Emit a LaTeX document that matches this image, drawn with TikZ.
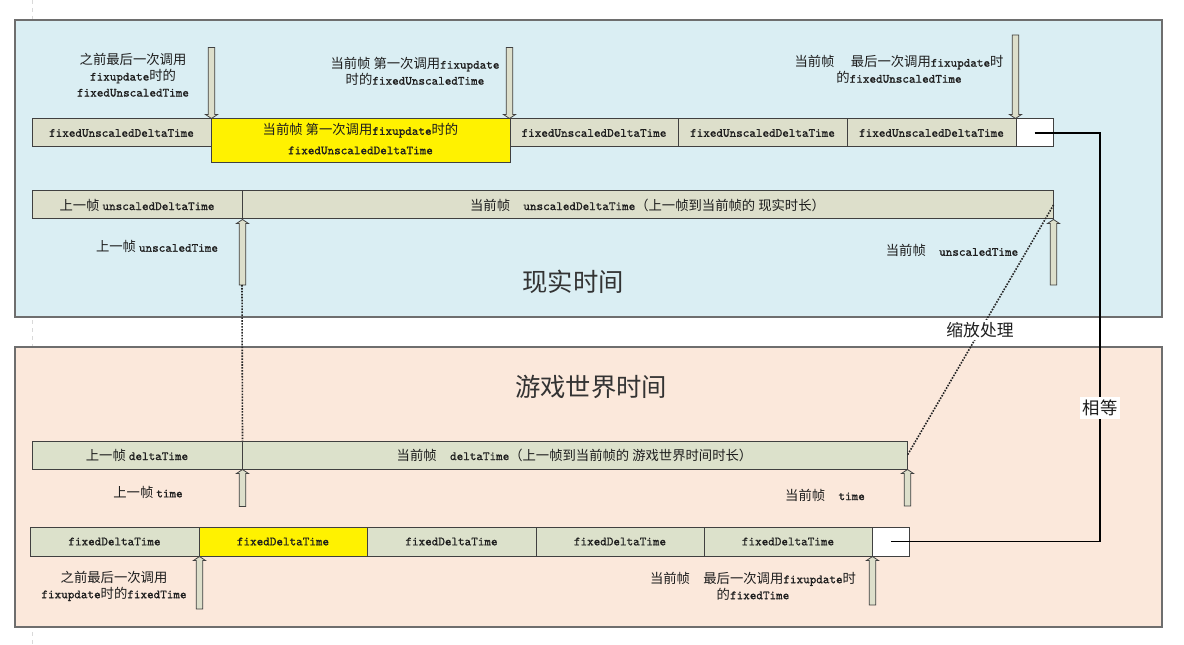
\documentclass[tikz,border=0pt]{standalone}
\usepackage{fontspec}
\setmainfont{Noto Sans CJK SC}
\newfontfamily\cdefont{lmmono10-regular}[Extension=.otf, FakeBold=1.0]
\usetikzlibrary{fit}
\definecolor{panelblue}{HTML}{DAEEF3}
\definecolor{panelpeach}{HTML}{FBE8DB}
\definecolor{cellfill}{HTML}{DDDFCB}
\definecolor{cellfillb}{HTML}{DCE1CB}
\definecolor{panelline}{HTML}{6E6E6E}
\definecolor{txt}{HTML}{1E1E1E}
\newcommand\cde[1]{{\fontsize{9.4}{11}\cdefont #1}}
\begin{document}
\begin{tikzpicture}[x=0.75pt,y=-0.75pt,
  font=\fontsize{10}{12}\selectfont,
  panel/.style={draw=panelline, line width=1.2pt, inner sep=0pt},
  cell/.style={draw=black!75, fill=cellfill, line width=0.75pt, inner sep=0pt},
  bcell/.style={cell, fill=cellfillb},
  wcell/.style={cell, fill=white},
  ctext/.style={inner sep=0pt, text=txt, align=center},
  barrow/.style={draw=black!75, fill=cellfill, line width=0.6pt},
  lbl/.style={align=center, inner sep=1pt, text=txt, font=\fontsize{10}{12}\selectfont},
  title/.style={inner sep=1pt, text=black!80, font=\fontsize{19}{22}\selectfont},
  dots/.style={densely dotted, line width=1.2pt, black!85},
  eqline/.style={line width=1.2pt, black},
  pics/blockarrow/.style={code={\draw[barrow] (0,0) -- (6,4) -- (3.3,4) -- (3.3,#1) -- (-3.3,#1) -- (-3.3,4) -- (-6,4) -- cycle;}}
]
\useasboundingbox (0,0) rectangle (1184,645);
\fill[white] (0,0) rectangle (1184,645);
\draw[dashed, black!15] (32,0) -- (32,645);

% panels
\node[panel, fill=panelblue, fit={(15,20) (1162,317)}] (top) {};
\node[panel, fill=panelpeach, fit={(15,347) (1162,627)}] (bot) {};

% row 1
\node[cell, fit={(32,119) (211,147)}] (c11) {};
\node[cell, fill=yellow, fit={(211,119) (510,163)}] (c12) {};
\node[cell, fit={(510,119) (678,147)}] (c13) {};
\node[cell, fit={(678,119) (847,147)}] (c14) {};
\node[cell, fit={(847,119) (1016,147)}] (c15) {};
\node[wcell, fit={(1016,119) (1053,147)}] (w1) {};
\node[ctext] (c11t) at (c11) {\cde{fixedUnscaledDeltaTime}};
\node[ctext, font=\fontsize{10}{14.5}\selectfont] (c12t) at ([yshift=1.5pt]c12.center) {当前帧 第一次调用\cde{fixupdate}时的\\\cde{fixedUnscaledDeltaTime}};
\node[ctext] (c13t) at (c13) {\cde{fixedUnscaledDeltaTime}};
\node[ctext] (c14t) at (c14) {\cde{fixedUnscaledDeltaTime}};
\node[ctext] (c15t) at (c15) {\cde{fixedUnscaledDeltaTime}};

% row 2
\node[cell, fit={(32,191) (242,219)}] (r2a) {};
\node[cell, fit={(242,191) (1053,219)}] (r2b) {};
\node[ctext] (r2at) at (r2a) {上一帧 \cde{unscaledDeltaTime}};
\node[ctext] (r2bt) at (r2b) {当前帧　\cde{unscaledDeltaTime}（上一帧到当前帧的 现实时长）};

% row 3
\node[bcell, fit={(32,441) (242,469)}] (r3a) {};
\node[bcell, fit={(242,441) (907,469)}] (r3b) {};
\node[ctext] (r3at) at (r3a) {上一帧 \cde{deltaTime}};
\node[ctext] (r3bt) at (r3b) {当前帧　\cde{deltaTime}（上一帧到当前帧的 游戏世界时间时长）};

% row 4
\node[bcell, fit={(30,527) (199,556)}] (c41) {};
\node[cell, fill=yellow, fit={(199,527) (367,556)}] (c42) {};
\node[bcell, fit={(367,527) (536,556)}] (c43) {};
\node[bcell, fit={(536,527) (704,556)}] (c44) {};
\node[bcell, fit={(704,527) (872,556)}] (c45) {};
\node[wcell, fit={(872,527) (909,556)}] (w2) {};
\node[ctext] (c41t) at (c41) {\cde{fixedDeltaTime}};
\node[ctext] (c42t) at (c42) {\cde{fixedDeltaTime}};
\node[ctext] (c43t) at (c43) {\cde{fixedDeltaTime}};
\node[ctext] (c44t) at (c44) {\cde{fixedDeltaTime}};
\node[ctext] (c45t) at (c45) {\cde{fixedDeltaTime}};

% labels
\node[lbl] (l1) at (133,75) {之前最后一次调用\\\cde{fixupdate}时的\\\cde{fixedUnscaledTime}};
\node[lbl] (l2) at (415,71.5) {当前帧 第一次调用\cde{fixupdate}\\时的\cde{fixedUnscaledTime}};
\node[lbl] (l3) at (899,69.5) {当前帧　 最后一次调用\cde{fixupdate}时\\的\cde{fixedUnscaledTime}};
\node[lbl] (l4) at (157,246.7) {上一帧 \cde{unscaledTime}};
\node[lbl] (l5) at (952,250.7) {当前帧　\cde{unscaledTime}};
\node[title] (t1) at (573,281.7) {现实时间};
\node[title] (t2) at (591,386.7) {游戏世界时间};
\node[lbl] (l6) at (148,492.3) {上一帧 \cde{time}};
\node[lbl] (l7) at (825,495) {当前帧　\cde{time}};
\node[lbl] (l8) at (114,586) {之前最后一次调用\\\cde{fixupdate}时的\cde{fixedTime}};
\node[lbl] (l9) at (753,586) {当前帧　最后一次调用\cde{fixupdate}时\\的\cde{fixedTime}};

% block arrows
\pic[yscale=-1] at (c11.north east) {blockarrow=71};
\pic[yscale=-1] at (c13.north west) {blockarrow=71};
\pic[yscale=-1] at (w1.north west) {blockarrow=83.5};
\pic at (r2a.south east) {blockarrow=65.5};
\pic at (r2b.south east) {blockarrow=65.5};
\pic at (r3a.south east) {blockarrow=37};
\pic at (r3b.south east) {blockarrow=36.5};
\pic at (c41.south east) {blockarrow=52.5};
\pic at (c45.south east) {blockarrow=48.5};

% dotted connectors
\coordinate (ua1) at (242,285);
\draw[dots] (ua1) -- (r3a.north east);
\draw[dots] (r2b.east) -- (r3b.east);
\node[lbl, fill=white, inner sep=2pt, font=\fontsize{12.6}{14}\selectfont] (scale) at (980,330) {缩放处理};

% equal connector
\coordinate (eqx) at (1100,0);
\draw[eqline] (w1.center) -- (w1.center -| eqx) |- (w2.center);
\node[lbl, fill=white, inner sep=2pt, font=\fontsize{13}{15}\selectfont] (eq) at (1100,408) {相等};
\end{tikzpicture}
\end{document}
